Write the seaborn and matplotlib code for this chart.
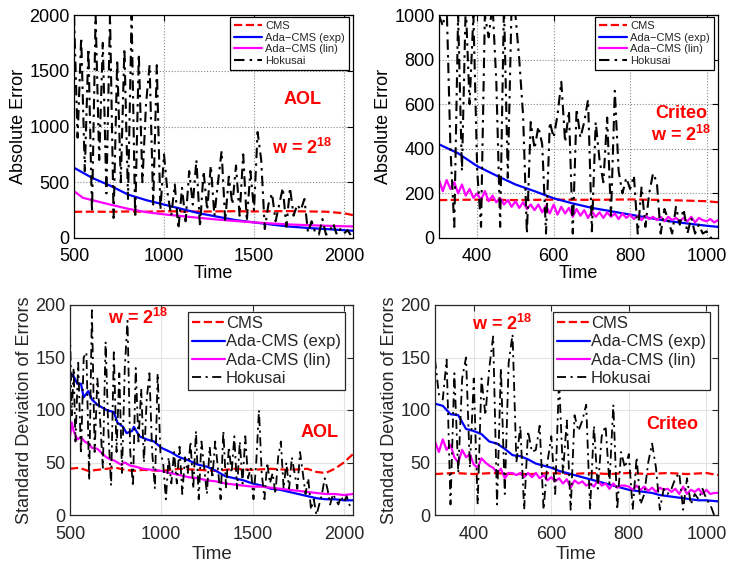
import numpy as np
import pandas as pd
import matplotlib
matplotlib.use("Agg")
import matplotlib.pyplot as plt
import seaborn as sns

sns.set_style("white")
plt.rcParams["font.family"] = ["Liberation Sans", "DejaVu Sans"]
plt.rcParams["mathtext.fontset"] = "custom"
plt.rcParams["mathtext.rm"] = "Liberation Sans"
plt.rcParams["mathtext.bf"] = "Liberation Sans:bold"

series_names = ["CMS", "Ada-CMS (exp)", "Ada-CMS (lin)", "Hokusai"]

# ---- AOL, absolute error ----
aol_cms_t = [500, 600, 700, 800, 900, 1000, 1100, 1200, 1300, 1400, 1500, 1600, 1700, 1800, 1900, 2000, 2050]
aol_cms_v = [235, 236, 235, 238, 236, 240, 238, 237, 239, 240, 238, 240, 241, 238, 236, 222, 205]
aol_exp_t = [500, 600, 700, 800, 900, 1000, 1100, 1200, 1300, 1400, 1500, 1600, 1700, 1800, 1900, 2000, 2050]
aol_exp_v = [630, 540, 470, 390, 340, 300, 260, 220, 190, 160, 140, 120, 102, 90, 80, 70, 65]
aol_lin_t = [500, 550, 600, 700, 800, 900, 1000, 1100, 1200, 1300, 1400, 1500, 1600, 1700, 1800, 1900, 2000, 2050]
aol_lin_v = [420, 360, 340, 300, 262, 232, 212, 196, 180, 165, 152, 140, 130, 121, 115, 110, 105, 104]
aol_hok_t = [500, 520, 540, 560, 580, 600, 620, 640, 660, 680, 700, 720, 740, 760, 780, 800, 820, 840,
             860, 880, 900, 920, 940, 960, 980, 1000, 1020, 1040, 1060, 1080, 1100, 1120, 1140, 1160,
             1180, 1200, 1220, 1240, 1260, 1280, 1300, 1320, 1340, 1360, 1380, 1400, 1420, 1440, 1460,
             1480, 1500, 1520, 1540, 1560, 1580, 1600, 1620, 1640, 1660, 1680, 1700, 1720, 1740, 1760,
             1780, 1800, 1820, 1840, 1860, 1880, 1900, 1920, 1940, 1960, 1980, 2000, 2020, 2040]
aol_hok_v = [2000, 900, 1800, 600, 1700, 230, 2000, 700, 1750, 400, 2000, 180, 1600, 500, 1700, 350,
             2000, 180, 1650, 500, 1200, 1550, 300, 1550, 250, 750, 400, 200, 480, 80, 450, 150, 600,
             300, 700, 100, 600, 250, 650, 200, 500, 780, 150, 550, 300, 650, 200, 750, 150, 600, 250,
             950, 700, 80, 300, 400, 150, 300, 450, 100, 450, 200, 300, 250, 350, 50, 150, 50, 30, 170,
             30, 60, 130, 30, 80, 40, 70, 20]

# ---- Criteo, absolute error ----
cri_cms_t = [300, 400, 500, 600, 700, 800, 900, 1000, 1030]
cri_cms_v = [170, 172, 170, 172, 171, 173, 170, 165, 160]
cri_exp_t = [300, 350, 400, 450, 500, 550, 600, 650, 700, 750, 800, 850, 900, 950, 1000, 1030]
cri_exp_v = [420, 380, 322, 280, 240, 210, 178, 155, 135, 120, 105, 90, 76, 65, 55, 50]
cri_lin_t = list(range(300, 1031, 10))
cri_lin_v = [260, 210, 260, 220, 250, 200, 240, 190, 220, 180, 200, 170, 210, 165, 190, 160, 180, 150,
             170, 140, 165, 135, 160, 130, 150, 125, 150, 115, 145, 110, 150, 105, 140, 110, 135, 95,
             130, 100, 125, 90, 120, 95, 115, 90, 115, 95, 110, 85, 110, 90, 105, 85, 100, 80, 100, 85,
             95, 80, 95, 75, 95, 80, 90, 75, 90, 75, 95, 70, 90, 80, 75, 85, 70, 80]
cri_hok_t = list(range(300, 1021, 10))
cri_hok_v = [1000, 950, 1050, 400, 50, 1000, 300, 1050, 600, 1000, 300, 50, 1000, 900, 1050, 700, 50,
             1050, 270, 1050, 1000, 800, 550, 20, 520, 400, 500, 420, 20, 520, 450, 550, 700, 430, 570,
             20, 580, 450, 520, 620, 30, 520, 350, 250, 540, 100, 660, 300, 200, 270, 220, 280, 20, 230,
             50, 200, 290, 250, 20, 130, 80, 20, 140, 60, 130, 20, 90, 20, 60, 20, 30, 0, 10]

# ---- AOL, standard deviation ----
aols_cms_t = [500, 550, 600, 650, 700, 750, 800, 850, 900, 1000, 1100, 1200, 1300, 1400, 1500, 1600,
              1700, 1800, 1850, 1900, 1950, 2000, 2050]
aols_cms_v = [44, 45, 42, 43, 44, 45, 43, 42, 43, 42, 44, 43, 42, 44, 43, 44, 43, 44, 41, 40, 44, 50, 58]
aols_exp_t = [500, 520, 540, 560, 575, 600, 620, 650, 700, 740, 760, 790, 810, 840, 850, 880, 920, 960,
              1000, 1050, 1100, 1150, 1200, 1250, 1300, 1350, 1400, 1450, 1500, 1550, 1600, 1650, 1700,
              1750, 1800, 1850, 1900, 1950, 2000, 2050]
aols_exp_v = [135, 132, 125, 125, 112, 118, 110, 105, 100, 98, 88, 84, 78, 80, 84, 75, 72, 70, 64, 60,
              55, 52, 48, 46, 42, 37, 35, 33, 30, 28, 25, 24, 22, 20, 18, 16, 15, 15, 14, 14]
aols_lin_t = [500, 510, 520, 540, 560, 580, 600, 620, 650, 680, 700, 720, 740, 760, 780, 800, 830, 860,
              900, 950, 1000, 1050, 1100, 1150, 1200, 1250, 1300, 1350, 1400, 1450, 1500, 1550, 1600,
              1650, 1700, 1750, 1800, 1850, 1900, 1950, 2000, 2050]
aols_lin_v = [75, 88, 80, 72, 74, 70, 68, 64, 63, 58, 55, 53, 52, 50, 48, 50, 47, 46, 44, 43, 42, 40,
              38, 36, 35, 33, 32, 30, 29, 28, 27, 27, 26, 25, 24, 23, 22, 21, 20, 20, 19, 20]
aols_hok_t = [500, 510, 520, 530, 545, 560, 575, 590, 605, 620, 635, 650, 665, 680, 695, 710, 725, 740,
              755, 770, 785, 800, 815, 830, 845, 860, 875, 890, 905, 920, 935, 950, 965, 980, 995, 1010,
              1025, 1040, 1055, 1070, 1085, 1100, 1115, 1130, 1145, 1160, 1175, 1190, 1205, 1220, 1235,
              1250, 1265, 1280, 1295, 1310, 1325, 1340, 1355, 1370, 1385, 1400, 1415, 1430, 1445, 1460,
              1475, 1490, 1505, 1520, 1535, 1550, 1565, 1580, 1595, 1610, 1625, 1640, 1655, 1670, 1685,
              1700, 1715, 1730, 1745, 1760, 1775, 1790, 1805, 1820, 1835, 1850, 1865, 1880, 1895, 1910,
              1925, 1940, 1955, 1970, 1985, 2000, 2015, 2030, 2045]
aols_hok_v = [175, 95, 140, 70, 145, 58, 150, 155, 33, 195, 60, 130, 90, 45, 165, 80, 28, 155, 60, 135,
              40, 140, 185, 60, 27, 140, 70, 120, 50, 110, 135, 60, 25, 135, 60, 50, 15, 55, 30, 60, 30,
              65, 20, 55, 40, 70, 25, 80, 15, 70, 45, 20, 65, 35, 70, 45, 15, 80, 25, 65, 40, 75, 25, 70,
              30, 75, 35, 45, 15, 50, 100, 40, 15, 50, 30, 40, 20, 55, 70, 25, 50, 25, 55, 40, 25, 60,
              40, 20, 35, 5, 15, 0, 10, 20, 35, 25, 10, 20, 15, 10, 18, 12, 18, 10, 5]

# ---- Criteo, standard deviation ----
cris_cms_t = [300, 350, 400, 450, 500, 550, 600, 650, 700, 750, 800, 850, 900, 950, 1000, 1030]
cris_cms_v = [39, 40, 39, 40, 39, 39, 40, 39, 40, 39, 40, 39, 40, 39, 40, 38]
cris_exp_t = list(range(300, 1001, 20)) + [1030]
cris_exp_v = [106, 104, 96, 95, 82, 80, 77, 70, 68, 63, 57, 56, 53, 49, 47, 45, 42, 40, 38, 36, 34, 32,
              30, 28, 26, 24, 23, 22, 21, 19, 18, 17, 16, 15, 14, 14, 13]
cris_lin_t = list(range(300, 1031, 10))
cris_lin_v = [70, 60, 72, 62, 67, 55, 50, 62, 55, 58, 48, 45, 54, 50, 47, 45, 40, 44, 35, 40, 40, 38,
              40, 36, 40, 36, 40, 35, 38, 33, 36, 32, 35, 30, 34, 26, 33, 30, 32, 28, 30, 27, 33, 28, 30,
              25, 30, 26, 28, 28, 27, 24, 28, 24, 27, 23, 26, 22, 26, 24, 25, 22, 25, 20, 27, 20, 24, 22,
              25, 20, 24, 20, 21, 21]
cris_hok_t = list(range(300, 1021, 10))
cris_hok_v = [148, 115, 110, 148, 10, 135, 40, 130, 150, 45, 130, 10, 130, 95, 140, 170, 10, 140, 20,
              145, 172, 50, 85, 5, 80, 60, 62, 85, 5, 50, 75, 20, 130, 40, 90, 5, 95, 80, 90, 105, 5, 85,
              25, 75, 85, 30, 105, 5, 60, 45, 58, 5, 55, 10, 20, 50, 68, 45, 5, 25, 20, 25, 35, 40, 5, 35,
              10, 20, 15, 25, 15, 10, 0]

colors = ["#ff0000", "#0000ff", "#ff00ff", "#000000"]
styles = ["--", "-", "-", "-."]

W, H = 731, 566
fig = plt.figure(figsize=(W / 100, H / 100), dpi=100)


def px_axes(l, t, r, b):
    return fig.add_axes([l / W, (H - b) / H, (r - l) / W, (b - t) / H])


panels = [
    dict(box=(74, 15, 353, 238), xlim=(500, 2050), ylim=(0, 2000), xt=[500, 1000, 1500, 2000],
         yt=[0, 500, 1000, 1500, 2000], ylabel="Absolute Error", top=True,
         data=[(aol_cms_t, aol_cms_v), (aol_exp_t, aol_exp_v), (aol_lin_t, aol_lin_v), (aol_hok_t, aol_hok_v)],
         texts=[(1770, 1240, "AOL"), (1770, 810, r"w = $\mathbf{2^{18}}$")]),
    dict(box=(439, 15, 718, 238), xlim=(300, 1030), ylim=(0, 1000), xt=[400, 600, 800, 1000],
         yt=[0, 200, 400, 600, 800, 1000], ylabel="Absolute Error", top=True,
         data=[(cri_cms_t, cri_cms_v), (cri_exp_t, cri_exp_v), (cri_lin_t, cri_lin_v), (cri_hok_t, cri_hok_v)],
         texts=[(933, 560, "Criteo"), (933, 460, r"w = $\mathbf{2^{18}}$")]),
    dict(box=(70, 305, 353, 515), xlim=(500, 2050), ylim=(0, 200), xt=[500, 1000, 1500, 2000],
         yt=[0, 50, 100, 150, 200], ylabel="Standard Deviation of Errors", top=False,
         data=[(aols_cms_t, aols_cms_v), (aols_exp_t, aols_exp_v), (aols_lin_t, aols_lin_v), (aols_hok_t, aols_hok_v)],
         texts=[(872, 188, r"w = $\mathbf{2^{18}}$"), (1869, 79, "AOL")]),
    dict(box=(435, 305, 718, 515), xlim=(300, 1030), ylim=(0, 200), xt=[400, 600, 800, 1000],
         yt=[0, 50, 100, 150, 200], ylabel="Standard Deviation of Errors", top=False,
         data=[(cris_cms_t, cris_cms_v), (cris_exp_t, cris_exp_v), (cris_lin_t, cris_lin_v), (cris_hok_t, cris_hok_v)],
         texts=[(473, 182, r"w = $\mathbf{2^{18}}$"), (911, 86, "Criteo")]),
]

for p in panels:
    ax = px_axes(*p["box"])
    ink = "#000000" if p["top"] else "#262626"
    for name, (t, v), c, ls in zip(series_names, p["data"], colors, styles):
        df = pd.DataFrame({"Time": t, "Value": v})
        lw = 1.6 if name != "Hokusai" else (1.5 if p["top"] else 1.3)
        line_kw = dict(dashes=(5, 2.5, 1.2, 2.5)) if name == "Hokusai" else dict(linestyle=ls)
        sns.lineplot(data=df, x="Time", y="Value", ax=ax, color=c, linewidth=lw,
                     label=name.replace("-", "\u2212") if p["top"] else name, sort=False, **line_kw)
    ax.set_xlim(*p["xlim"])
    ax.set_ylim(*p["ylim"])
    ax.set_xticks(p["xt"])
    ax.set_yticks(p["yt"])
    if p["top"]:
        ax.set_xlabel("Time", fontsize=13, color=ink, labelpad=0)
        ax.tick_params(axis="x", pad=7.5)
    else:
        ax.set_xlabel("Time", fontsize=13.5, color=ink, labelpad=2)
        ax.tick_params(axis="x", pad=8)
    ax.set_ylabel(p["ylabel"], fontsize=13, color=ink, labelpad=2)
    ax.tick_params(axis="y", pad=3)
    ax.tick_params(direction="in", length=4, labelsize=13, colors=ink, top=True, right=True)
    for s in ax.spines.values():
        s.set_color(ink)
        s.set_linewidth(0.9)
    if p["top"]:
        ax.grid(True, linestyle=":", color="#888888", linewidth=0.8)
        leg = ax.legend(loc="upper right", bbox_to_anchor=(0.986, 0.991), borderaxespad=0, fontsize=8,
                        handlelength=2.5, labelspacing=0.15, handletextpad=0.3, borderpad=0.35)
    else:
        ax.grid(True, linestyle="-", color="#e3e3e3", linewidth=0.8)
        leg = ax.legend(loc="upper right", bbox_to_anchor=(0.972, 0.967), borderaxespad=0, fontsize=12,
                        handlelength=2.0, labelspacing=0.2, handletextpad=0.05, borderpad=0.25)
    leg.get_frame().set_edgecolor("#000000" if p["top"] else "#262626")
    leg.get_frame().set_linewidth(0.9)
    leg.get_frame().set_boxstyle("square", pad=0)
    leg.get_frame().set_alpha(1)
    ax.set_axisbelow(True)
    for x, y, s in p["texts"]:
        ax.text(x, y, s, color="#ff0000", fontsize=13, fontweight="bold", ha="center", va="center")

fig.savefig("out.png", dpi=100)
